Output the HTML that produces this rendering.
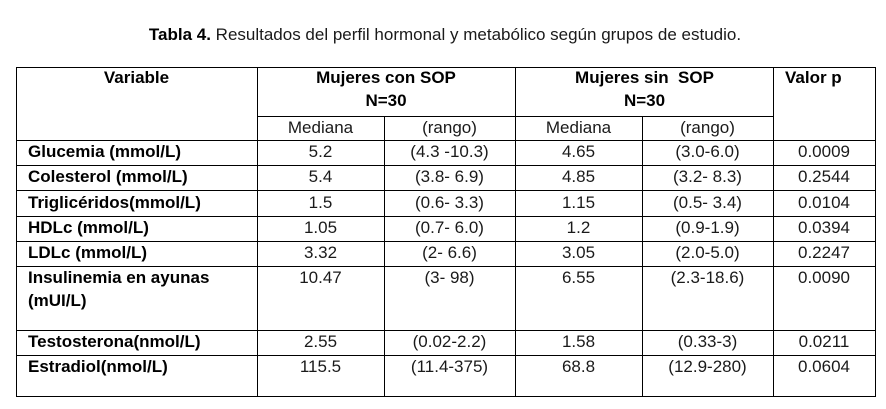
<!DOCTYPE html>
<html><head><meta charset="utf-8"><style>
html,body{margin:0;padding:0;background:#fff;}
svg{display:block;}
text{font-family:"Liberation Sans",Arial,sans-serif;font-size:17px;fill:#1a1a1a;white-space:pre;}
.b{font-weight:bold;fill:#000;}
.c{text-anchor:middle;}
</style></head><body>
<svg width="886" height="409" viewBox="0 0 886 409" xmlns="http://www.w3.org/2000/svg">
<rect width="886" height="409" fill="#fff"/>
<text class="c" x="445" y="40"><tspan class="b">Tabla 4.</tspan> Resultados del perfil hormonal y metabólico según grupos de estudio.</text>
<g stroke="#000" stroke-width="1.2" shape-rendering="crispEdges">
<line x1="16" y1="67.5" x2="875.5" y2="67.5"/>
<line x1="257" y1="116.5" x2="773" y2="116.5"/>
<line x1="16" y1="140.5" x2="875.5" y2="140.5"/>
<line x1="16" y1="165.5" x2="875.5" y2="165.5"/>
<line x1="16" y1="190.5" x2="875.5" y2="190.5"/>
<line x1="16" y1="216.5" x2="875.5" y2="216.5"/>
<line x1="16" y1="241.5" x2="875.5" y2="241.5"/>
<line x1="16" y1="266.5" x2="875.5" y2="266.5"/>
<line x1="16" y1="330.5" x2="875.5" y2="330.5"/>
<line x1="16" y1="355.5" x2="875.5" y2="355.5"/>
<line x1="16" y1="396.5" x2="875.5" y2="396.5"/>
<line x1="16.5" y1="67" x2="16.5" y2="397"/>
<line x1="257.5" y1="67" x2="257.5" y2="397"/>
<line x1="384.5" y1="116" x2="384.5" y2="397"/>
<line x1="515.5" y1="67" x2="515.5" y2="397"/>
<line x1="642.5" y1="116" x2="642.5" y2="397"/>
<line x1="773.5" y1="67" x2="773.5" y2="397"/>
<line x1="875.5" y1="67" x2="875.5" y2="397"/>
</g>
<!-- header -->
<text class="b c" x="136.5" y="83">Variable</text>
<text class="b c" x="386" y="83">Mujeres con SOP</text>
<text class="b c" x="386" y="106">N=30</text>
<text class="b c" x="644.5" y="83">Mujeres sin  SOP</text>
<text class="b c" x="644.5" y="106">N=30</text>
<text class="b" x="785" y="83">Valor p</text>
<text class="c" x="320.5" y="133">Mediana</text>
<text class="c" x="449.5" y="133">(rango)</text>
<text class="c" x="578.5" y="133">Mediana</text>
<text class="c" x="707.5" y="133">(rango)</text>
<!-- rows -->
<g>
<text class="b" x="28" y="157">Glucemia (mmol/L)</text>
<text class="c" x="320.5" y="157">5.2</text><text class="c" x="449.5" y="157">(4.3 -10.3)</text><text class="c" x="578.5" y="157">4.65</text><text class="c" x="707.5" y="157">(3.0-6.0)</text><text class="c" x="824" y="157">0.0009</text>

<text class="b" x="28" y="182">Colesterol (mmol/L)</text>
<text class="c" x="320.5" y="182">5.4</text><text class="c" x="449.5" y="182">(3.8- 6.9)</text><text class="c" x="578.5" y="182">4.85</text><text class="c" x="707.5" y="182">(3.2- 8.3)</text><text class="c" x="824" y="182">0.2544</text>

<text class="b" x="28" y="208">Triglicéridos(mmol/L)</text>
<text class="c" x="320.5" y="208">1.5</text><text class="c" x="449.5" y="208">(0.6- 3.3)</text><text class="c" x="578.5" y="208">1.15</text><text class="c" x="707.5" y="208">(0.5- 3.4)</text><text class="c" x="824" y="208">0.0104</text>

<text class="b" x="28" y="233">HDLc (mmol/L)</text>
<text class="c" x="320.5" y="233">1.05</text><text class="c" x="449.5" y="233">(0.7- 6.0)</text><text class="c" x="578.5" y="233">1.2</text><text class="c" x="707.5" y="233">(0.9-1.9)</text><text class="c" x="824" y="233">0.0394</text>

<text class="b" x="28" y="258">LDLc (mmol/L)</text>
<text class="c" x="320.5" y="258">3.32</text><text class="c" x="449.5" y="258">(2- 6.6)</text><text class="c" x="578.5" y="258">3.05</text><text class="c" x="707.5" y="258">(2.0-5.0)</text><text class="c" x="824" y="258">0.2247</text>

<text class="b" x="28" y="283">Insulinemia en ayunas</text>
<text class="b" x="28" y="306">(mUI/L)</text>
<text class="c" x="320.5" y="283">10.47</text><text class="c" x="449.5" y="283">(3- 98)</text><text class="c" x="578.5" y="283">6.55</text><text class="c" x="707.5" y="283">(2.3-18.6)</text><text class="c" x="824" y="283">0.0090</text>

<text class="b" x="28" y="347">Testosterona(nmol/L)</text>
<text class="c" x="320.5" y="347">2.55</text><text class="c" x="449.5" y="347">(0.02-2.2)</text><text class="c" x="578.5" y="347">1.58</text><text class="c" x="707.5" y="347">(0.33-3)</text><text class="c" x="824" y="347">0.0211</text>

<text class="b" x="28" y="372">Estradiol(nmol/L)</text>
<text class="c" x="320.5" y="372">115.5</text><text class="c" x="449.5" y="372">(11.4-375)</text><text class="c" x="578.5" y="372">68.8</text><text class="c" x="707.5" y="372">(12.9-280)</text><text class="c" x="824" y="372">0.0604</text>
</g>
</svg>
</body></html>
